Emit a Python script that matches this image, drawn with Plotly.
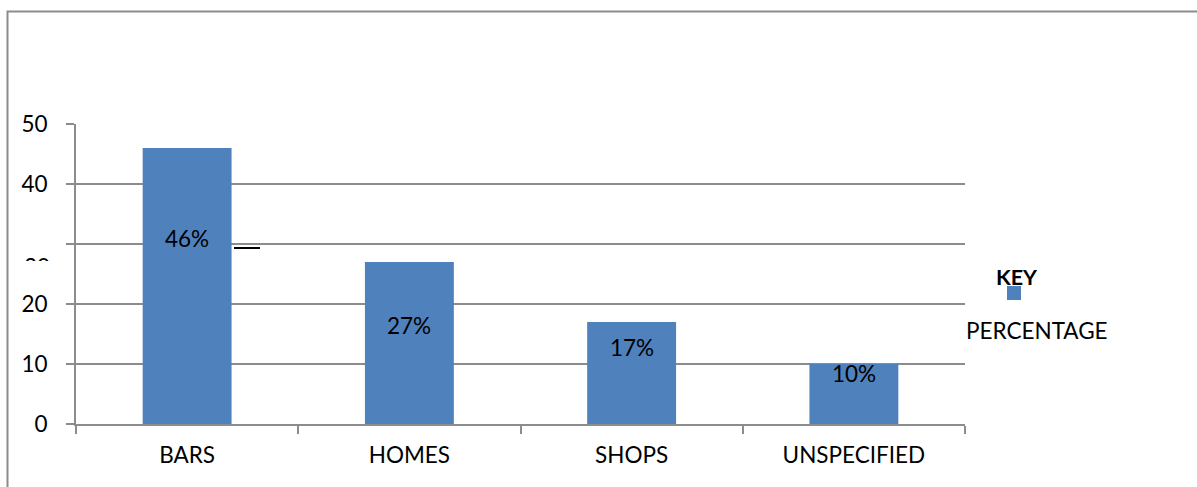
import plotly.graph_objects as go

# Share of cases by location (percent)
categories = ["BARS", "HOMES", "SHOPS", "UNSPECIFIED"]
percentages = [46, 27, 17, 10]
value_labels = ["46%", "27%", "17%", "10%"]
series_name = "PERCENTAGE"
y_ticks = [0, 10, 20, 30, 40, 50]
y_tick_text = ["0", "10", "20", "", "40", "50"]

# Pixel offsets of the value labels below each bar top
label_shift = [-90, -63, -25, -9]

BAR_BLUE = "#4F81BD"
GRID_GRAY = "#8C8C8C"
FONT = "Lato"
FS = 22.5

W, H = 1197, 487
L, R, T, B = 76, 232, 124, 63


def px_x(px):
    return (px - L) / (W - L - R)


def px_y(py):
    return (H - B - py) / (H - T - B)


fig = go.Figure(
    go.Bar(
        x=categories,
        y=percentages,
        name=series_name,
        marker=dict(color=BAR_BLUE, line=dict(width=0)),
        width=0.4,
        showlegend=False,
        hoverinfo="skip",
    )
)

for cat, val, txt, shift in zip(categories, percentages, value_labels, label_shift):
    fig.add_annotation(
        x=cat, y=val, text=txt, showarrow=False, xanchor="center", yanchor="middle",
        yshift=shift, font=dict(family=FONT, size=FS, color="#000000"),
    )

# The "30" label sits low and is mostly masked, leaving only its top edge
fig.add_annotation(
    x=px_x(52), y=px_y(266), xref="paper", yref="paper", text="30",
    showarrow=False, xanchor="right", yanchor="middle",
    font=dict(family=FONT, size=FS, color="#000000"),
)
fig.add_annotation(
    x=px_x(16), y=px_y(260.5), xref="paper", yref="paper", text=" ",
    showarrow=False, xanchor="left", yanchor="top", width=48, height=26,
    bgcolor="#FFFFFF", borderpad=0, borderwidth=0,
    font=dict(family=FONT, size=10, color="#FFFFFF"),
)

# Key: bold heading, swatch, series name
fig.add_annotation(
    x=px_x(1017), y=px_y(277), xref="paper", yref="paper", text="<b>KEY</b>",
    showarrow=False, xanchor="center", yanchor="middle",
    font=dict(family=FONT, size=FS - 1, color="#000000"),
)
fig.add_shape(
    type="rect", xref="paper", yref="paper",
    x0=px_x(1007), x1=px_x(1021), y0=px_y(300), y1=px_y(286),
    fillcolor=BAR_BLUE, line=dict(width=0),
)
fig.add_annotation(
    x=px_x(1037), y=px_y(330), xref="paper", yref="paper", text=series_name,
    showarrow=False, xanchor="center", yanchor="middle",
    font=dict(family=FONT, size=FS, color="#000000"),
)

# Outer chart border
fig.add_shape(
    type="rect", xref="paper", yref="paper",
    x0=px_x(7.5), x1=px_x(1250), y0=px_y(540), y1=px_y(11.5),
    line=dict(color=GRID_GRAY, width=2), fillcolor="rgba(0,0,0,0)", layer="above",
)
# Short stray stroke beside the first bar
fig.add_shape(
    type="line", xref="paper", yref="paper",
    x0=px_x(234), x1=px_x(260), y0=px_y(248), y1=px_y(248),
    line=dict(color="#000000", width=2), layer="above",
)

fig.update_layout(
    width=W, height=H,
    margin=dict(l=L, r=R, t=T, b=B, pad=0),
    paper_bgcolor="#FFFFFF",
    plot_bgcolor="#FFFFFF",
    bargap=0.6,
    font=dict(family=FONT, color="#000000"),
)
fig.update_xaxes(
    type="category",
    showline=True, linecolor=GRID_GRAY, linewidth=2,
    ticks="outside", ticklen=8, tickwidth=2, tickcolor=GRID_GRAY,
    tickson="boundaries",
    showgrid=False,
    tickfont=dict(family=FONT, size=FS, color="#000000"),
    ticklabelstandoff=10,
)
fig.update_yaxes(
    range=[0, 50],
    tickvals=y_ticks,
    ticktext=y_tick_text,
    showline=True, linecolor=GRID_GRAY, linewidth=2,
    ticks="outside", ticklen=8, tickwidth=2, tickcolor=GRID_GRAY,
    showgrid=True, gridcolor=GRID_GRAY, gridwidth=2,
    zeroline=False,
    tickfont=dict(family=FONT, size=FS, color="#000000"),
    ticklabelstandoff=14,
)

fig.write_html("out.html")
